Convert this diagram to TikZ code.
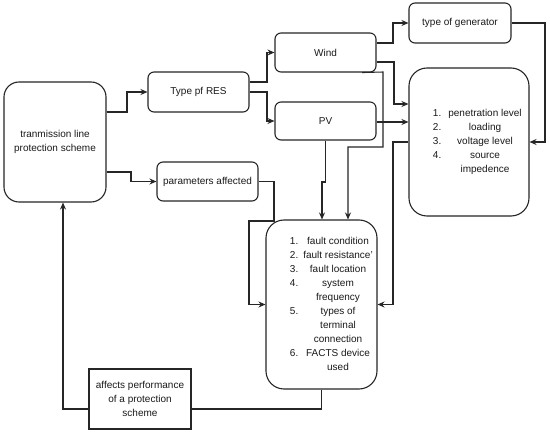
\documentclass[tikz,border=0pt]{standalone}
\usepackage{fontspec}
\setmainfont{Liberation Sans}
\usepackage{array}
\usetikzlibrary{arrows.meta}
\definecolor{lc}{HTML}{262626}
\definecolor{tc}{HTML}{1A1A1A}
\begin{document}
\begin{tikzpicture}[x=1pt,y=-1pt,
  box/.style={draw=lc,line width=1.1pt,rounded corners=6pt,minimum width=#1,inner sep=0pt,
    font=\fontsize{10}{14}\selectfont,text=tc,align=center},
  box/.default=101pt,
  arr/.style={draw=lc,line width=1.05pt,-{Stealth[length=7pt,width=6pt]}},
  ln/.style={draw=lc,line width=1.05pt}]
\useasboundingbox (0,0) rectangle (550,433);
\fill[white] (0,0) rectangle (550,433);
% nodes
\node[box=102pt,minimum height=120pt,rounded corners=15pt] (main) at (55,142) {tranmission line\\protection scheme};
\node[box,minimum height=40pt] (res) at (198.5,92) {Type pf RES};
\node[box,minimum height=39pt] (params) at (207.5,181.5) {parameters affected};
\node[box,minimum height=39pt] (wind) at (325.5,52.5) {Wind};
\node[box,minimum height=38pt] (pv) at (325.5,121) {PV};
\node[box=102pt,minimum height=40pt] (gen) at (460,23) {type of generator};
\node[box=120pt,minimum height=148pt,rounded corners=18pt] (big) at (469,142)
 {\hspace*{20pt}\begin{tabular}{@{}l@{\hspace{3.7pt}}>{\centering\arraybackslash}p{80pt}@{}}
 1. & penetration level\\
 2. & loading\\
 3. & voltage level\\
 4. & source\\
    & impedence
 \end{tabular}};
\node[box=111pt,minimum height=169pt,rounded corners=18pt] (fault) at (321.5,304.5)
 {\hspace*{23pt}\begin{tabular}{@{}l@{\hspace{1.7pt}}>{\centering\arraybackslash}p{76pt}@{}}
 1. & fault condition\\
 2. & fault resistance'\\
 3. & fault location\\
 4. & system\\
    & frequency\\
 5. & types of\\
    & terminal\\
    & connection\\
 6. & FACTS device\\
    & used
 \end{tabular}};
\node[box=102pt,minimum height=60pt,rounded corners=0pt] (aff) at (140,399) {affects performance\\of a protection\\scheme};
% connectors
\draw[arr] (main.east |- 0,112) -- (127,112) |- (res.west);
\draw[arr] (main.east |- 0,172) -- (131,172) |- (params.west);
\draw[arr] (res.east |- 0,82) -- (267,82) |- (wind.west);
\draw[arr] (res.east) -- (267,92) |- (pv.west);
\draw[arr] (wind.east |- 0,43) -- (393,43) |- (gen.west);
\draw[arr] (wind.east |- 0,62) -- (394,62) |- (big.west |- 0,104);
\draw[arr] (pv.east |- 0,122) -- (big.west |- 0,122);
\draw[arr] (big.west) -- (393,142) |- (fault.east);
\draw[arr] (gen.east) -- (545,23) |- (big.east);
\draw[arr] (wind.south -| 362,0) -- (383,72) -- (383,147) -- (348,147) -- (fault.north -| 348,0);
\draw[arr] (pv.south) -- (325.5,182) -- (322,182) -- (fault.north -| 322,0);
\draw[arr] (params.east) -- (274,181.5) -- (274,221) -- (249,221) |- (fault.west);
\draw[ln] (fault.south) |- (aff.east |- 0,409);
\draw[arr] (aff.west |- 0,409) -- (63,409) -- (main.south -| 63,0);
\end{tikzpicture}
\end{document}
